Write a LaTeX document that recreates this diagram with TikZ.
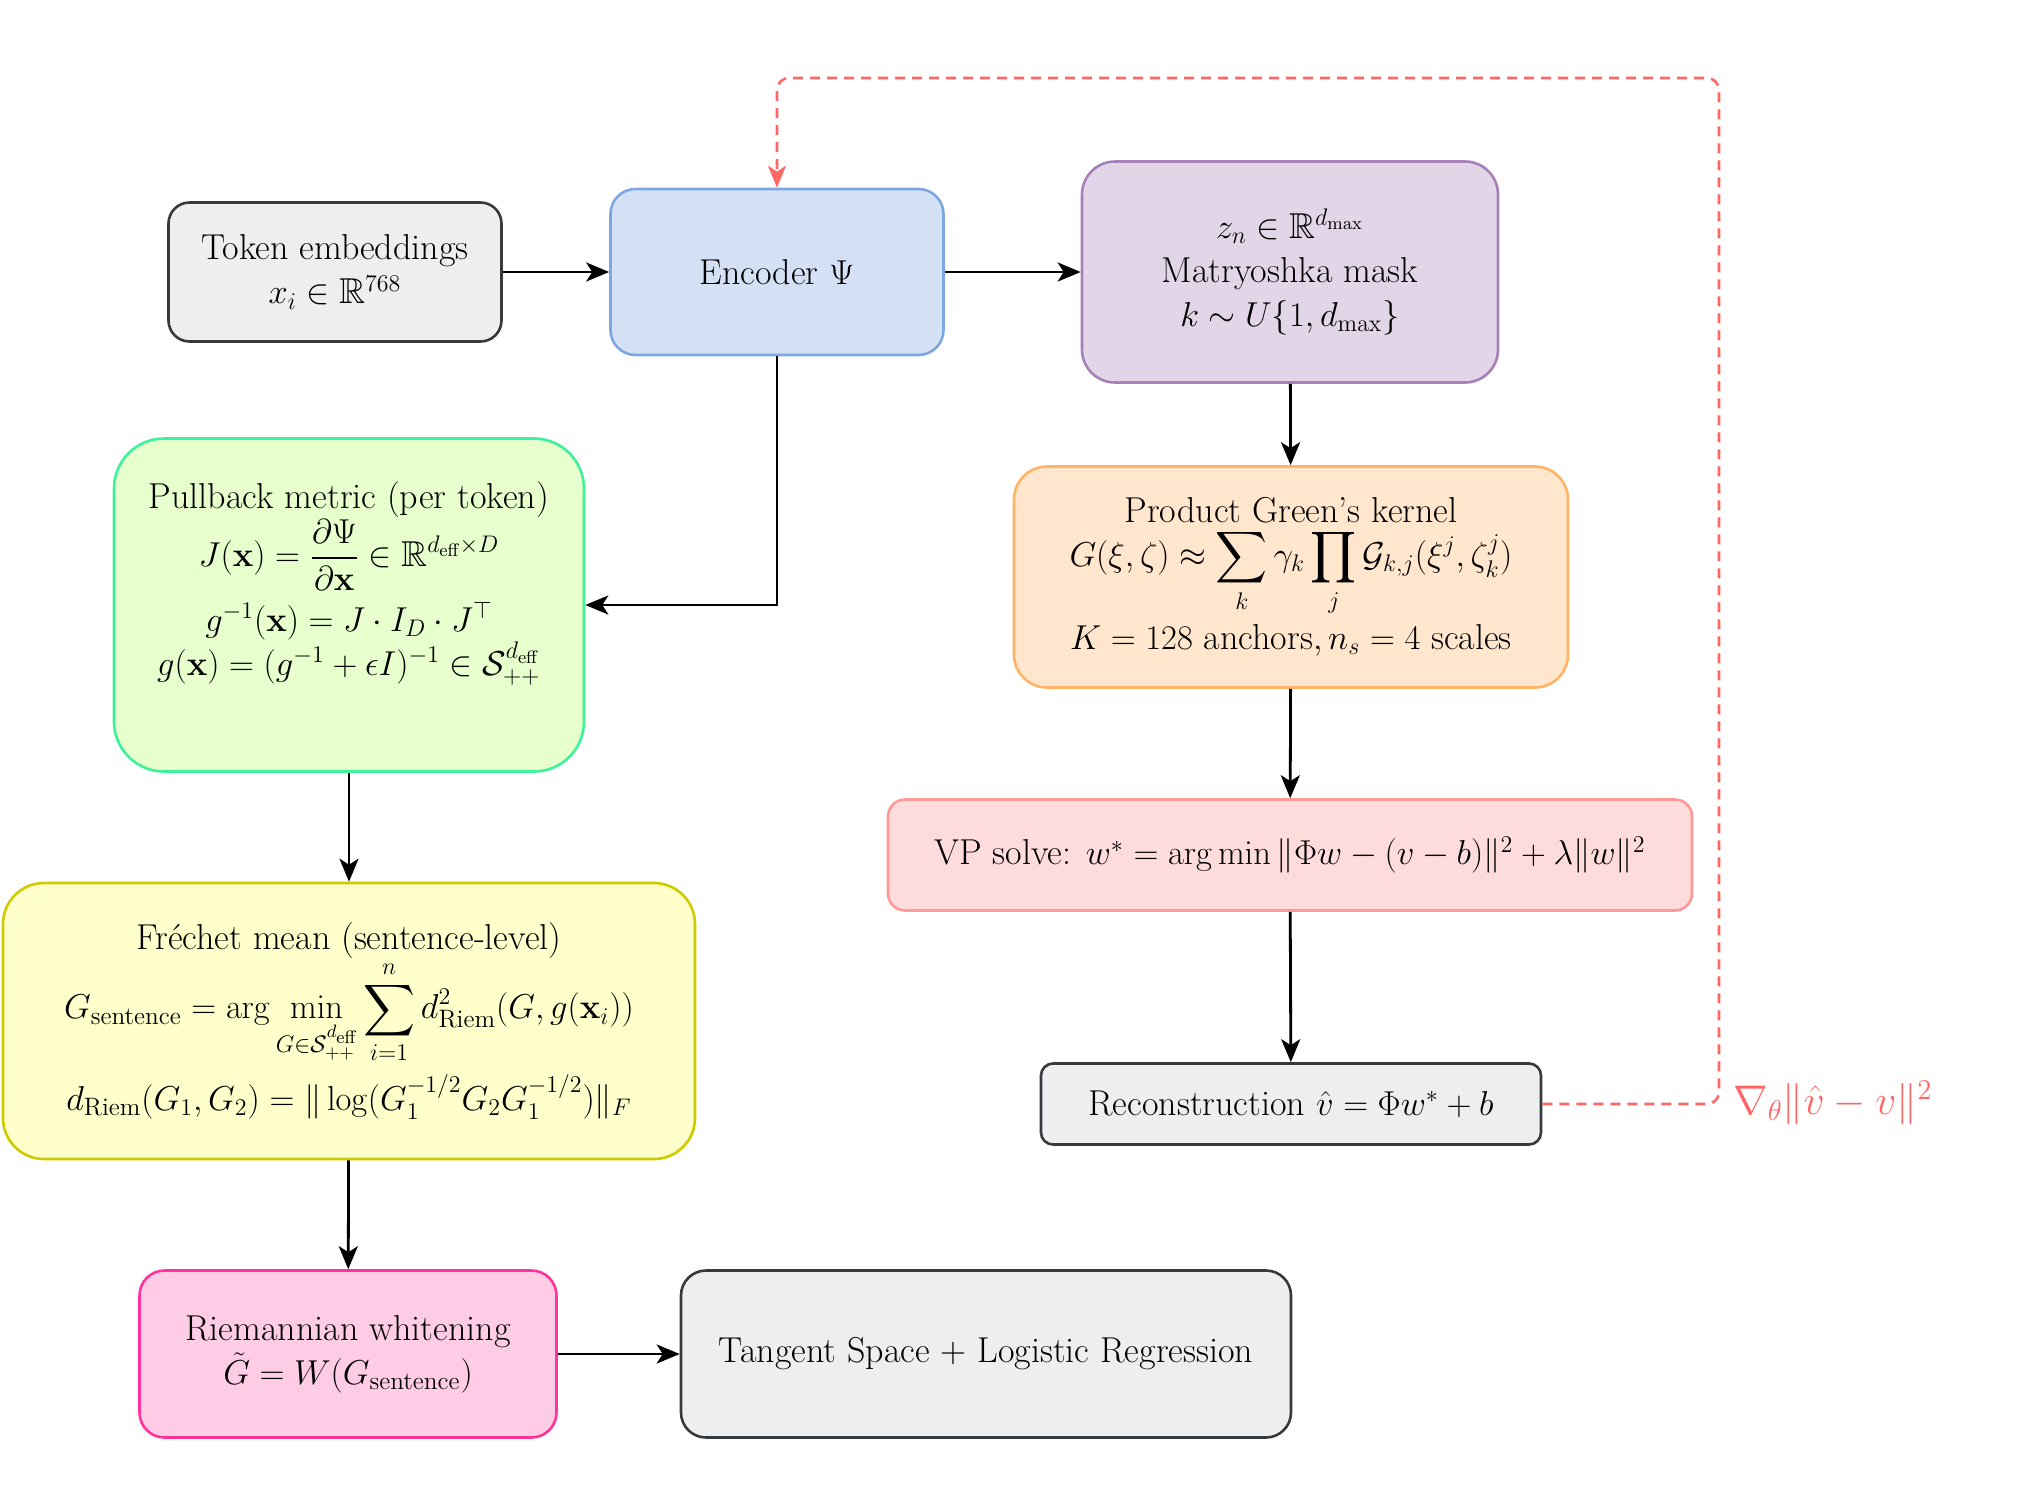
\documentclass[tikz,border=0pt]{standalone}
\usepackage{amsmath,amssymb}
\usetikzlibrary{arrows.meta}
\definecolor{grayF}{HTML}{EEEEEE}
\definecolor{grayD}{HTML}{36393D}
\definecolor{encF}{HTML}{D4E1F5}
\definecolor{encD}{HTML}{7EA6E0}
\definecolor{matF}{HTML}{E1D5E7}
\definecolor{matD}{HTML}{A680B8}
\definecolor{pulF}{HTML}{E6FFCC}
\definecolor{pulD}{HTML}{3DF29A}
\definecolor{grnF}{HTML}{FFE6CC}
\definecolor{grnD}{HTML}{FFB366}
\definecolor{vpF}{HTML}{FFDCDC}
\definecolor{vpD}{HTML}{FF9999}
\definecolor{freF}{HTML}{FFFFCC}
\definecolor{freD}{HTML}{CCCC00}
\definecolor{rieF}{HTML}{FFCCE6}
\definecolor{rieD}{HTML}{FF3399}
\definecolor{fbC}{HTML}{FF6666}
\begin{document}
\begin{tikzpicture}[x=0.5pt,y=-0.5pt,
  box/.style={draw, line width=1.3pt, align=center, inner sep=0pt,
    font=\fontsize{18}{22}\selectfont},
  arr/.style={-{Stealth[length=11.5pt,width=9.5pt,inset=3pt]}, line width=1.4pt},
  fb/.style={-{Stealth[length=11pt,width=9pt,inset=3pt]}, line width=1.3pt,
    draw=fbC, dash pattern=on 5pt off 3.5pt, rounded corners=6pt}]
\useasboundingbox (0,0) rectangle (2030,1500);

\node[box, fill=grayF, draw=grayD, minimum width=166.5pt, minimum height=69.5pt, rounded corners=10.5pt]
  (tok) at (335,272) {Token embeddings\\ $x_i\in\mathbb{R}^{768}$};
\node[box, fill=encF, draw=encD, minimum width=166.5pt, minimum height=83pt, rounded corners=12.5pt]
  (enc) at (777,272) {Encoder $\Psi$};
\node[box, fill=matF, draw=matD, minimum width=208pt, minimum height=110.5pt, rounded corners=16.5pt]
  (mat) at (1290,272) {$z_n\in\mathbb{R}^{d_{\max}}$\\ Matryoshka mask\\ $k\sim U\{1,d_{\max}\}$};
\node[box, fill=pulF, draw=pulD, minimum width=235pt, minimum height=166.5pt, rounded corners=25pt]
  (pull) at (349,605) {};
\node[align=center, inner sep=0pt, font=\fontsize{18}{22}\selectfont]
  (pulltxt) at (349,583) {Pullback metric (per token)\\
  $\displaystyle J(\mathbf{x})=\frac{\partial\Psi}{\partial\mathbf{x}}\in\mathbb{R}^{d_{\text{eff}}\times D}$\\[5pt]
  $g^{-1}(\mathbf{x})=J\cdot I_D\cdot J^{\top}$\\
  $g(\mathbf{x})=(g^{-1}+\epsilon I)^{-1}\in\mathcal{S}_{++}^{d_{\text{eff}}}$};
\node[box, fill=grnF, draw=grnD, minimum width=277pt, minimum height=110.5pt, rounded corners=16.5pt]
  (grn) at (1291,577) {Product Green's kernel\\
  $\displaystyle G(\xi,\zeta)\approx\sum_k\gamma_k\prod_j\mathcal{G}_{k,j}(\xi^j,\zeta_k^j)$\\[3pt]
  $K=128$ anchors$,n_s=4$ scales};
\node[box, fill=vpF, draw=vpD, minimum width=402pt, minimum height=55.5pt, rounded corners=8.5pt]
  (vp) at (1290,855) {VP solve: $w^{*}=\arg\min\|\Phi w-(v-b)\|^2+\lambda\|w\|^2$};
\node[box, fill=grayF, draw=grayD, minimum width=250pt, minimum height=40.5pt, rounded corners=6pt]
  (rec) at (1291,1104) {Reconstruction $\hat{v}=\Phi w^{*}+b$};
\node[box, fill=freF, draw=freD, minimum width=346pt, minimum height=138pt, rounded corners=20.5pt]
  (fre) at (349,1021) {Fr\'echet mean (sentence-level)\\
  $\displaystyle G_{\text{sentence}}=\arg\min_{G\in\mathcal{S}_{++}^{d_{\text{eff}}}}\sum_{i=1}^{n}d^2_{\text{Riem}}(G,g(\mathbf{x}_i))$\\[4pt]
  $d_{\text{Riem}}(G_1,G_2)=\|\log(G_1^{-1/2}G_2G_1^{-1/2})\|_F$};
\node[box, fill=rieF, draw=rieD, minimum width=208.5pt, minimum height=83.5pt, rounded corners=12.5pt]
  (rie) at (348,1354) {Riemannian whitening\\ $\tilde{G}=W(G_{\text{sentence}})$};
\node[box, fill=grayF, draw=grayD, minimum width=305pt, minimum height=83.5pt, rounded corners=12.5pt]
  (tan) at (986,1354) {Tangent Space + Logistic Regression};

\draw[arr] (tok) -- (enc);
\draw[arr] (enc) -- (mat);
\draw[arr] (enc.south) |- (pull.east);
\draw[arr] (mat) -- (grn);
\draw[arr] (grn) -- (vp);
\draw[arr] (vp) -- (rec);
\draw[arr] (pull) -- (fre);
\draw[arr] (fre) -- (rie);
\draw[arr] (rie) -- (tan);

\coordinate (fbtop) at (1719,78);
\draw[fb] (rec.east) -| (fbtop) -| (enc.north);
\node[anchor=west, text=fbC, inner sep=0pt, font=\fontsize{21}{25}\selectfont]
  (fblab) at (1733,1103) {$\nabla_\theta\|\hat{v}-v\|^2$};
\end{tikzpicture}
\end{document}
